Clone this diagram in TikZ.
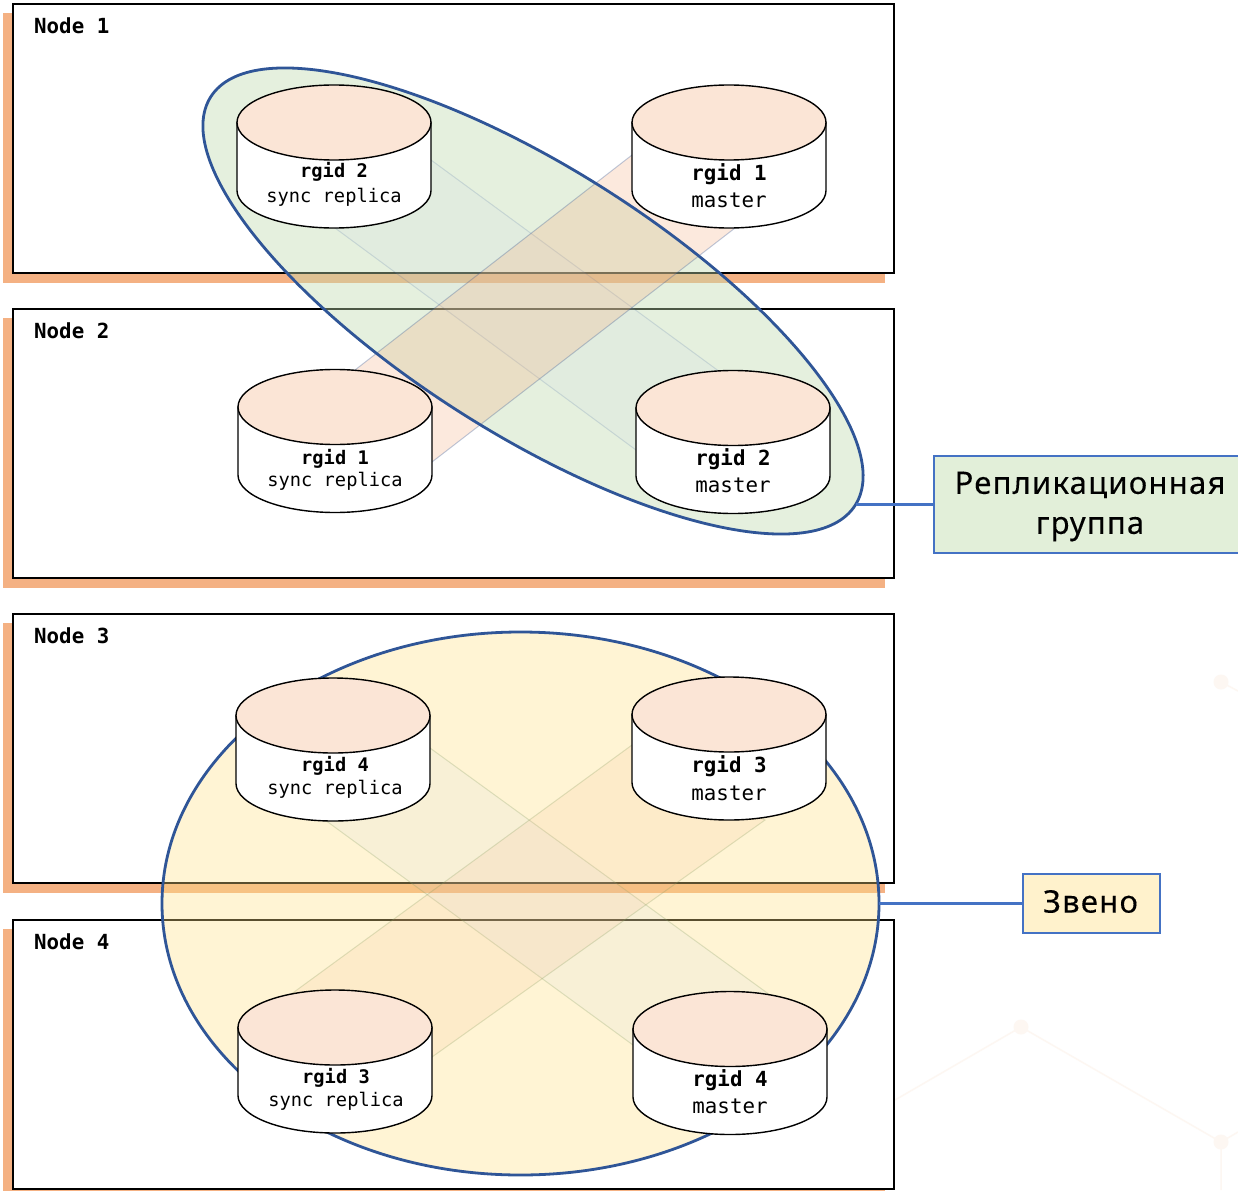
\documentclass[tikz,border=0pt]{standalone}
\usepackage{fontspec}
\usetikzlibrary{shapes.geometric}
\setmonofont{DejaVu Sans Mono}
\newfontfamily\capfont[LetterSpace=4,FakeBold=0.25]{Noto Sans}
\definecolor{stripc}{HTML}{F4B183}
\definecolor{peach}{HTML}{FBE5D6}
\definecolor{frameb}{HTML}{2F5597}
\definecolor{linkb}{HTML}{4472C4}
\definecolor{lgreen}{HTML}{E2EFD9}
\definecolor{lyellow}{HTML}{FFF2CC}
\definecolor{ggreen}{HTML}{BFDBAD}
\definecolor{gyellow}{HTML}{FFE285}
\definecolor{wmark}{HTML}{FDF7F2}
\definecolor{olivel}{HTML}{7F9A5A}
\tikzset{
  x=1pt,y=-1pt,
  strip/.style={fill=stripc,draw=none},
  hostbox/.style={draw=black,line width=1.7pt,fill=white,minimum width=881pt,minimum height=269pt,inner sep=0pt},
  hostlabel/.style={anchor=west,inner sep=0pt,font=\ttfamily\bfseries\fontsize{20.8}{24}\selectfont},
  bandp/.style={fill=stripc,fill opacity=.27,draw=frameb,draw opacity=.3,line width=1pt},
  bandb/.style={fill=linkb!35,fill opacity=.1,draw=frameb,draw opacity=.16,line width=1pt},
  bandpl/.style={fill=stripc,fill opacity=.13,draw=olivel,draw opacity=.25,line width=1pt},
  bandbl/.style={fill=linkb!35,fill opacity=.1,draw=olivel,draw opacity=.25,line width=1pt},
  greenell/.style={ellipse,inner sep=0pt,fill=ggreen,fill opacity=.4,draw=none},
  yellowell/.style={ellipse,inner sep=0pt,fill=gyellow,fill opacity=.35,draw=none},
  ellline/.style={draw=frameb,line width=2.8pt},
  cylbody/.style={draw=black,line width=1.4pt,fill=white},
  cyltop/.style={draw=black,line width=1.4pt,fill=peach},
  rtext/.style={align=center,inner sep=0pt},
  callout/.style={draw=linkb,line width=1.8pt,inner sep=0pt},
  calltext/.style={inner sep=0pt,align=center,font=\capfont\fontsize{31}{40}\selectfont},
  linkline/.style={draw=linkb,line width=2.6pt},
  wm/.style={draw=wmark,line width=1.5pt},
  wmdot/.style={fill=wmark,draw=none}
}
% #1 name, #2 left, #3 top, #4 rgid text, #5 role, #6 size, #7 y of first line, #8 y of second line, #9 x offset of text
\newcommand{\dbcyl}[9]{%
  \path[cylbody] (#2,#3+37.5) -- (#2,#3+105.5) arc[start angle=180,end angle=360,x radius=97pt,y radius=37.5pt] -- (#2+194,#3+37.5) -- cycle;
  \path[cyltop] (#2+97,#3+37.5) ellipse[x radius=97pt,y radius=37.5pt];
  \node[rtext,font=\ttfamily\bfseries\fontsize{#6}{#6}\selectfont] (#1a) at (#2+97+#9,#3+#7) {#4};
  \node[rtext,font=\ttfamily\fontsize{#6}{#6}\selectfont] (#1b) at (#2+97+#9,#3+#8) {#5};
}
\begin{document}
\begin{tikzpicture}
\clip (0,0) rectangle (1238,1190);
\fill[white] (0,0) rectangle (1238,1190);
% faint background marks
\draw[wm] (1021,1027) -- (1221,1142) -- (1221,1190);
\draw[wm] (895,1100) -- (1021,1027);
\draw[wm] (1221,1142) -- (1238,1132);
\draw[wm] (1221,682) -- (1238,691);
\fill[wmdot] (1021,1027) circle[radius=7.5pt];
\fill[wmdot] (1221,1142) circle[radius=7.5pt];
\fill[wmdot] (1221,682) circle[radius=7.5pt];
% shadows
\fill[strip] (3,13) rectangle (885,283);
\fill[strip] (3,318) rectangle (885,588);
\fill[strip] (3,623) rectangle (885,893);
\fill[strip] (3,929) rectangle (885,1200);
% hosts
\node[hostbox] (n1) at (453.5,138.5) {};
\node[hostbox] (n2) at (453.5,443.5) {};
\node[hostbox] (n3) at (453.5,748.5) {};
\node[hostbox] (n4) at (453.5,1054.5) {};
\node[hostlabel] (n1t) at (34,26) {Node 1};
\node[hostlabel] (n2t) at (34,331) {Node 2};
\node[hostlabel] (n3t) at (34,636) {Node 3};
\node[hostlabel] (n4t) at (34,942) {Node 4};
% groups and replication bands
\node[greenell,rotate=-32.35,minimum width=763pt,minimum height=266pt] (rg) at (533,301) {};
\path[bandb] (431,160) -- (720,372) -- (636,450) -- (335,228) -- cycle;
\path[bandp] (632,155) -- (355,370) -- (432,462) -- (735,228) -- cycle;
\draw[ellline,rotate around={-32.35:(533,301)}] (533,301) ellipse[x radius=381.5pt,y radius=133pt];
\node[yellowell,minimum width=717pt,minimum height=543pt] (zv) at (520.5,903.5) {};
\path[bandbl] (430,748) -- (770,995) -- (633,1045) -- (325,820) -- cycle;
\path[bandpl] (632,745) -- (290,995) -- (432,1057) -- (765,820) -- cycle;
\draw[ellline] (520.5,903.5) ellipse[x radius=358.5pt,y radius=271.5pt];
% cylinders
\dbcyl{a}{237}{85}{rgid 2}{sync replica}{18.7}{87}{112}{0}
\dbcyl{b}{632}{85}{rgid 1}{master}{20.8}{89}{115}{0}
\dbcyl{c}{238}{369.5}{rgid 1}{sync replica}{18.7}{89}{112}{0}
\dbcyl{d}{636}{370.5}{rgid 2}{master}{20.8}{89}{115}{0}
\dbcyl{e}{236}{678}{rgid 4}{sync replica}{18.7}{88}{111}{2}
\dbcyl{f}{632}{677}{rgid 3}{master}{20.8}{89}{116}{0}
\dbcyl{g}{238}{990}{rgid 3}{sync replica}{18.7}{88}{111}{1}
\dbcyl{h}{633}{991.5}{rgid 4}{master}{20.8}{89}{115}{0}
% callouts
\node[callout,fill=lgreen,minimum width=312pt,minimum height=97pt] (rl) at (1090,504.5) {};
\node[calltext] (rlt) at (1090,506.5) {Репликационная\\группа};
\node[callout,fill=lyellow,minimum width=137pt,minimum height=59pt] (zl) at (1091.5,903.5) {};
\node[calltext] (zlt) at (1090.5,901.5) {Звено};
\coordinate (rgend) at (856,504.5);
\draw[linkline] (rgend) -- (rl.west);
\draw[linkline] (zv.east) -- (zl.west);
\end{tikzpicture}
\end{document}
